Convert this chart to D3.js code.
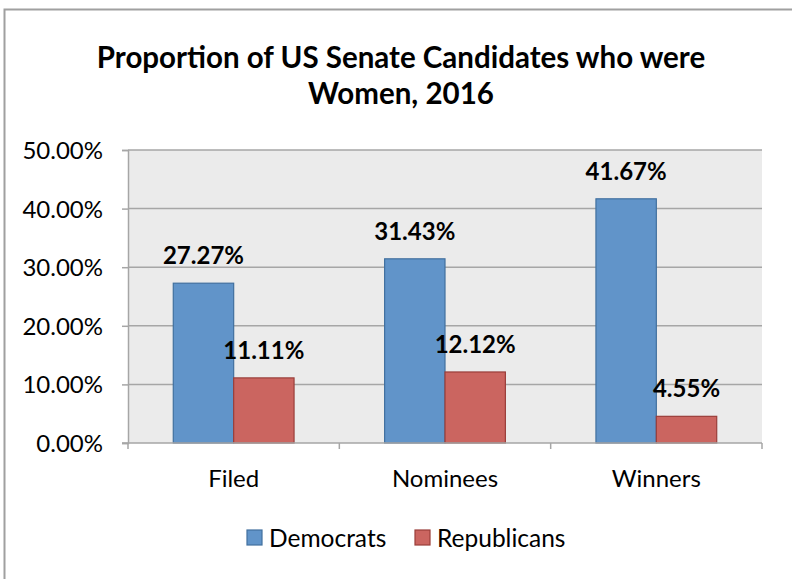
<!DOCTYPE html>
<meta charset="utf-8">
<style>
body { margin: 0; background: #fff; }
text { font-family: Lato, "Open Sans", sans-serif; fill: #000; }
.title { font-weight: bold; font-size: 29.5px; text-anchor: middle; }
.tick-label { font-size: 24px; text-anchor: end; }
.cat-label { font-size: 24px; text-anchor: middle; }
.bar-label { font-weight: bold; font-size: 24px; text-anchor: middle; }
.legend-label { font-size: 24.5px; }
</style>
<svg width="792" height="579"></svg>
<script src="https://d3js.org/d3.v7.min.js"></script>
<script>

// data
var categories = ["Filed", "Nominees", "Winners"];
var seriesNames = ["Democrats", "Republicans"];
var democrats = [27.27, 31.43, 41.67];
var republicans = [11.11, 12.12, 4.55];
var yTicks = [0, 10, 20, 30, 40, 50];

var fills = ["#6194C9", "#CB6560"],
    strokes = ["#41709F", "#9A3E3A"];

var svg = d3.select("svg");

// outer chart border
svg.append("rect")
    .attr("x", 4.5).attr("y", 9.5)
    .attr("width", 800).attr("height", 600)
    .attr("fill", "none")
    .attr("stroke", "#a0a0a0")
    .attr("stroke-width", 2);

var title = svg.append("text").attr("class", "title");
title.append("tspan").attr("x", 401).attr("y", 68).text("Proportion of US Senate Candidates who were");
title.append("tspan").attr("x", 401).attr("y", 104).text("Women, 2016");

var plotL = 128, plotR = 762, plotT = 150, plotB = 443;

var x0 = d3.scaleBand()
    .domain(categories)
    .range([plotL, plotR]);

// 150% gap width: each category holds 2 bars + 1.5 bar widths of gap
var x1 = d3.scaleBand()
    .domain(seriesNames)
    .range([0, x0.bandwidth()])
    .paddingInner(0)
    .paddingOuter(0.75);

var y = d3.scaleLinear()
    .domain([0, 50])
    .range([plotB, plotT]);

// plot background
svg.append("rect")
    .attr("x", plotL).attr("y", plotT)
    .attr("width", plotR - plotL).attr("height", plotB - plotT)
    .attr("fill", "#EBEBEB");

// grid lines
svg.append("g")
    .selectAll("line")
    .data(yTicks.filter(function(d) { return d > 0; }))
    .enter().append("line")
      .attr("x1", plotL).attr("x2", plotR)
      .attr("y1", function(d) { return y(d); })
      .attr("y2", function(d) { return y(d); })
      .attr("stroke", "#A6A6A6")
      .attr("stroke-width", 1.5);

// y axis
var yAxis = svg.append("g")
    .attr("transform", "translate(" + plotL + ",0)")
    .call(d3.axisLeft(y).tickValues(yTicks).tickSize(6).tickPadding(19)
      .tickFormat(function(d) { return d.toFixed(2) + "%"; }));
yAxis.select(".domain").attr("stroke", "#A6A6A6").attr("stroke-width", 1.5);
yAxis.selectAll(".tick line").attr("stroke", "#A6A6A6").attr("stroke-width", 1.5);
yAxis.selectAll(".tick text")
    .attr("class", "tick-label")
    .attr("dy", "0.35em");
yAxis.attr("font-size", null).attr("font-family", null);

// bars
var groups = svg.append("g")
  .selectAll("g")
  .data(categories)
  .enter().append("g")
    .attr("transform", function(d) { return "translate(" + x0(d) + ",0)"; });

var barData = function(c, i) {
  return [
    { series: seriesNames[0], value: democrats[i], k: 0 },
    { series: seriesNames[1], value: republicans[i], k: 1 }
  ];
};

groups.selectAll("rect")
  .data(barData)
  .enter().append("rect")
    .attr("x", function(d) { return x1(d.series); })
    .attr("y", function(d) { return y(d.value); })
    .attr("width", x1.bandwidth())
    .attr("height", function(d) { return y(0) - y(d.value); })
    .attr("fill", function(d) { return fills[d.k]; })
    .attr("stroke", function(d) { return strokes[d.k]; })
    .attr("stroke-width", 1.2);

groups.selectAll("text")
  .data(barData)
  .enter().append("text")
    .attr("class", "bar-label")
    .attr("x", function(d) { return x1(d.series) + x1.bandwidth() / 2; })
    .attr("y", function(d) { return y(d.value) - 19; })
    .text(function(d) { return d.value.toFixed(2) + "%"; });

// x axis
var xAxis = svg.append("g")
    .attr("transform", "translate(0," + plotB + ")");
xAxis.append("line")
    .attr("x1", plotL - 6).attr("x2", plotR)
    .attr("stroke", "#A6A6A6").attr("stroke-width", 1.5);
xAxis.selectAll(".cat-tick")
  .data(categories.concat(["end"]))
  .enter().append("line")
    .attr("class", "cat-tick")
    .attr("x1", function(d, i) { return plotL + i * x0.bandwidth(); })
    .attr("x2", function(d, i) { return plotL + i * x0.bandwidth(); })
    .attr("y1", 0).attr("y2", 6)
    .attr("stroke", "#A6A6A6").attr("stroke-width", 1.5);
xAxis.selectAll(".cat-label")
  .data(categories)
  .enter().append("text")
    .attr("class", "cat-label")
    .attr("x", function(d) { return x0(d) + x0.bandwidth() / 2; })
    .attr("y", 44)
    .text(function(d) { return d; });

// legend
var legendX = [247, 415];
var legend = svg.append("g")
  .selectAll("g")
  .data(seriesNames)
  .enter().append("g")
    .attr("transform", function(d, i) { return "translate(" + legendX[i] + ",530)"; });
legend.append("rect")
    .attr("width", 15).attr("height", 15)
    .attr("fill", function(d, i) { return fills[i]; })
    .attr("stroke", function(d, i) { return strokes[i]; })
    .attr("stroke-width", 1.2);
legend.append("text")
    .attr("class", "legend-label")
    .attr("x", 22).attr("y", 17)
    .text(function(d) { return d; });

</script>
